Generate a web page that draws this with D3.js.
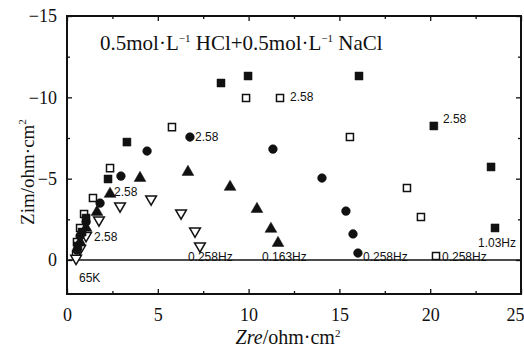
<!DOCTYPE html>
<html>
<head>
<meta charset="utf-8">
<script src="https://cdn.jsdelivr.net/npm/d3@7"></script>
<style>
  body { margin: 0; background: #fff; }
  text { fill: #111; }
</style>
</head>
<body>
<div id="chart"></div>
<script>
// Nyquist data, Zre / Zim in ohm·cm2
var sqFilledRe = [0.6, 0.83, 1.05, 2.26, 3.30, 8.48, 9.97, 16.08, 20.2, 23.35, 23.57];
var sqFilledIm = [-0.86, -1.72, -2.58, -4.98, -7.25, -10.88, -11.31, -11.31, -8.24, -5.72, -1.97];

var sqOpenRe = [0.5, 0.55, 0.72, 0.94, 1.43, 2.37, 5.78, 9.86, 11.73, 15.58, 18.72, 19.49, 20.32];
var sqOpenIm = [-0.37, -1.1, -1.97, -2.83, -3.81, -5.65, -8.17, -9.96, -9.96, -7.56, -4.43, -2.64, -0.25];

var circRe = [0.55, 0.72, 1.05, 1.82, 2.97, 4.41, 6.77, 11.34, 14.04, 15.36, 15.75, 16.02];
var circIm = [-0.6, -1.48, -2.34, -3.5, -5.16, -6.70, -7.56, -6.82, -5.04, -3.01, -1.60, -0.43];

var triRe = [0.72, 1.05, 1.65, 2.37, 4.02, 6.66, 8.98, 10.46, 11.23, 11.62];
var triIm = [-1.1, -1.97, -2.95, -4.06, -5.04, -5.41, -4.49, -3.13, -1.91, -1.04];

var triDownRe = [0.5, 0.72, 1.05, 1.76, 2.92, 4.63, 6.28, 7.05, 7.32];
var triDownIm = [-0.1, -0.7, -1.5, -2.46, -3.32, -3.75, -2.89, -1.78, -0.86];

var xTicks = [0, 5, 10, 15, 20, 25];
var xMinor = [2.5, 7.5, 12.5, 17.5, 22.5];
var yTicks = [-15, -10, -5, 0];
var yMinor = [-12.5, -7.5, -2.5];

// frequency notes, anchored at data coords
var noteText = ["2.58", "2.58", "2.58", "2.58", "2.58", "65K", "0.258Hz", "0.163Hz", "0.258Hz", "0.258Hz", "1.03Hz"];
var noteRe = [2.59, 7.05, 12.28, 20.7, 1.49, 0.66, 6.66, 10.74, 16.3, 20.65, 22.63];
var noteIm = [-4.18, -7.56, -10.02, -8.67, -1.41, 1.1, -0.18, -0.18, -0.18, -0.18, -1.04];

var width = 524, height = 347;
var margin = { top: 16, right: 3, bottom: 53, left: 67 };
var w = width - margin.left - margin.right;
var h = height - margin.top - margin.bottom;

var svg = d3.select("#chart").append("svg")
  .attr("width", width).attr("height", height);
var g = svg.append("g")
  .attr("transform", "translate(" + margin.left + "," + margin.top + ")");

var x = d3.scaleLinear().domain([0, 25]).range([0, w]);
var y = d3.scaleLinear().domain([-15, 2.09]).range([0, h]);

var serif = "'Liberation Serif', 'DejaVu Serif', serif";
var sans = "'Liberation Sans', Arial, sans-serif";

// axes with inward ticks
function fmt(d) { return d < 0 ? "\u2212" + Math.abs(d) : d; }

g.append("g").attr("class", "xbottom").attr("transform", "translate(0," + h + ")")
  .call(d3.axisBottom(x).tickValues(xTicks).tickSizeInner(-5).tickSizeOuter(0).tickPadding(14).tickFormat(fmt));
g.append("g").attr("transform", "translate(0," + h + ")")
  .call(d3.axisBottom(x).tickValues(xMinor).tickSizeInner(-3).tickSizeOuter(0).tickFormat(""));
g.append("g")
  .call(d3.axisTop(x).tickValues(xTicks).tickSizeInner(-5).tickSizeOuter(0).tickFormat(""));
g.append("g")
  .call(d3.axisTop(x).tickValues(xMinor).tickSizeInner(-3).tickSizeOuter(0).tickFormat(""));

g.append("g")
  .call(d3.axisLeft(y).tickValues(yTicks).tickSizeInner(-5).tickSizeOuter(0).tickPadding(10).tickFormat(fmt));
g.append("g")
  .call(d3.axisLeft(y).tickValues(yMinor).tickSizeInner(-3).tickSizeOuter(0).tickFormat(""));
g.append("g").attr("transform", "translate(" + w + ",0)")
  .call(d3.axisRight(y).tickValues(yTicks).tickSizeInner(-5).tickSizeOuter(0).tickFormat(""));
g.append("g").attr("transform", "translate(" + w + ",0)")
  .call(d3.axisRight(y).tickValues(yMinor).tickSizeInner(-3).tickSizeOuter(0).tickFormat(""));

g.selectAll(".domain").remove();
g.selectAll(".tick line").attr("stroke", "#111").attr("stroke-width", 1.3);
g.selectAll(".tick text").attr("font-family", serif).attr("font-size", 18).attr("fill", "#111");
// last x label sits at the right edge, nudge it in so it is not clipped
g.selectAll(".xbottom .tick text").filter(function(d) { return d === 25; }).attr("dx", -6);

// frame
g.append("rect").attr("x", 0).attr("y", 0).attr("width", w).attr("height", h)
  .attr("fill", "none").attr("stroke", "#111").attr("stroke-width", 2);

// zero line
g.append("line")
  .attr("x1", 0).attr("x2", w).attr("y1", y(0)).attr("y2", y(0))
  .attr("stroke", "#111").attr("stroke-width", 1.6);

// markers
function pts(re, im) { return re.map(function(d, i) { return [d, im[i]]; }); }

function drawSeries(data, type, size, fill, rotate) {
  g.selectAll(null).data(data).enter().append("path")
    .attr("d", d3.symbol().type(type).size(size))
    .attr("transform", function(d) {
      return "translate(" + x(d[0]) + "," + y(d[1]) + ")" + (rotate ? " rotate(180)" : "");
    })
    .attr("fill", fill ? "#111" : "#fff")
    .attr("stroke", "#111")
    .attr("stroke-width", fill ? 0.5 : 1.5);
}

drawSeries(pts(sqOpenRe, sqOpenIm), d3.symbolSquare, 50, false, false);
drawSeries(pts(triDownRe, triDownIm), d3.symbolTriangle, 50, false, true);
drawSeries(pts(triRe, triIm), d3.symbolTriangle, 60, true, false);
drawSeries(pts(circRe, circIm), d3.symbolCircle, 60, true, false);
drawSeries(pts(sqFilledRe, sqFilledIm), d3.symbolSquare, 64, true, false);

// notes
g.selectAll(".note").data(noteText).enter().append("text")
  .attr("class", "note")
  .attr("x", function(d, i) { return x(noteRe[i]); })
  .attr("y", function(d, i) { return y(noteIm[i]); })
  .attr("dy", "0.35em")
  .attr("font-family", sans)
  .attr("font-size", 12)
  .text(function(d) { return d; });

// title
var title = svg.append("text")
  .attr("x", 100).attr("y", 50)
  .attr("font-family", serif).attr("font-size", 21);
title.append("tspan").text("0.5mol\u00b7L");
title.append("tspan").attr("dy", -8).attr("font-size", 11).text("\u22121");
title.append("tspan").attr("dy", 8).text(" HCl+0.5mol\u00b7L");
title.append("tspan").attr("dy", -8).attr("font-size", 11).text("\u22121");
title.append("tspan").attr("dy", 8).text(" NaCl");

// axis titles
var xl = svg.append("text")
  .attr("x", 288).attr("y", 344)
  .attr("text-anchor", "middle")
  .attr("font-family", serif).attr("font-size", 20);
xl.append("tspan").attr("font-style", "italic").text("Zre");
xl.append("tspan").text("/ohm\u00b7cm");
xl.append("tspan").attr("dy", -7).attr("font-size", 11).text("2");

var yl = svg.append("text")
  .attr("transform", "translate(34,172) rotate(-90)")
  .attr("text-anchor", "middle")
  .attr("font-family", serif).attr("font-size", 19);
yl.append("tspan").text("Zim/ohm\u00b7cm");
yl.append("tspan").attr("dy", -8).attr("font-size", 11).text("2");
</script>
</body>
</html>
